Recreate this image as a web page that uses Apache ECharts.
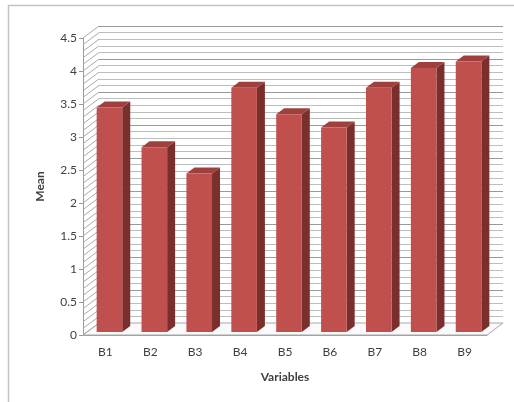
<!DOCTYPE html>
<html>
<head>
<meta charset="utf-8">
<script src="https://cdn.jsdelivr.net/npm/echarts@6/dist/echarts.min.js"></script>
<style>
  html, body { margin: 0; padding: 0; background: #fff; }
  #chart { width: 514px; height: 402px; }
</style>
</head>
<body>
<div id="chart"></div>
<script>
var categories = ['B1', 'B2', 'B3', 'B4', 'B5', 'B6', 'B7', 'B8', 'B9'];
var means = [3.4, 2.8, 2.4, 3.7, 3.3, 3.1, 3.7, 4.0, 4.1];
var yMin = 0, yMax = 4.5, yStep = 0.5, minorStep = 0.1;

// depth of the 3D box (back wall offset from front plane)
var DX = 16, DY = -12;
var font = 'Lato, "Liberation Sans", sans-serif';

var myChart = echarts.init(document.getElementById('chart'));

// walls: floor + hatched left side wall
function renderWalls(params, api) {
    var cs = params.coordSys;
    var children = [];
    var x0 = cs.x, x1 = cs.x + cs.width, yb = cs.y + cs.height;
    children.push({
        type: 'polygon',
        shape: { points: [[x0, yb], [x1, yb], [x1 + DX, yb + DY], [x0 + DX, yb + DY]] },
        style: { fill: '#fafafa', stroke: '#a8a8a8', lineWidth: 1 }
    });
    var n = Math.round((yMax - yMin) / minorStep);
    for (var k = 0; k <= n; k++) {
        var y = api.coord([0, yMin + k * minorStep])[1];
        children.push({
            type: 'line',
            shape: { x1: x0, y1: y, x2: x0 + DX, y2: y + DY },
            style: { stroke: '#aaaaaa', lineWidth: 1 }
        });
    }
    return { type: 'group', children: children };
}

// 3D looking bars
function renderBar(params, api) {
    var i = api.value(0), v = api.value(1);
    var base = api.coord([i, 0]);
    var top = api.coord([i, v]);
    var band = api.size([1, 0])[0];
    var half = band * 0.285;
    var cx = base[0] + DX / 4;
    var xl = cx - half, xr = cx + half;
    var yb = base[1] + DY / 4, yt = top[1] + DY / 4;
    var bx = DX / 2, by = DY / 2;
    return {
        type: 'group',
        children: [{
            type: 'polygon',
            shape: { points: [[xr, yb], [xr, yt], [xr + bx, yt + by], [xr + bx, yb + by]] },
            style: { fill: '#7a2f2c' }
        }, {
            type: 'polygon',
            shape: { points: [[xl, yt], [xr, yt], [xr + bx, yt + by], [xl + bx, yt + by]] },
            style: { fill: '#9e403d' }
        }, {
            type: 'rect',
            shape: { x: xl, y: yt, width: xr - xl, height: yb - yt },
            style: { fill: '#c0504d' }
        }]
    };
}

myChart.setOption({
    backgroundColor: '#fff',
    animation: false,
    graphic: [{
        type: 'line',
        shape: { x1: 8, y1: 5.5, x2: 514, y2: 5.5 },
        style: { stroke: '#c4c4c4', lineWidth: 1.5 }
    }, {
        type: 'line',
        shape: { x1: 8.5, y1: 5, x2: 8.5, y2: 402 },
        style: { stroke: '#c4c4c4', lineWidth: 1.5 }
    }],
    grid: [
        { left: 83, right: 27, top: 38, bottom: 67 },              // front plane
        { left: 83 + DX, right: 27 - DX, top: 38 + DY, bottom: 67 - DY } // back wall
    ],
    xAxis: [{
        type: 'category',
        gridIndex: 0,
        data: categories,
        name: 'Variables',
        nameLocation: 'middle',
        nameGap: 36,
        nameTextStyle: { fontFamily: font, fontSize: 12, fontWeight: 'bold', color: '#404040' },
        axisLine: { lineStyle: { color: '#9a9a9a' } },
        axisTick: { show: false },
        axisLabel: { fontFamily: font, fontSize: 12, color: '#404040', margin: 11 }
    }, {
        type: 'category',
        gridIndex: 1,
        data: categories,
        show: false
    }],
    yAxis: [{
        type: 'value',
        gridIndex: 0,
        min: yMin,
        max: yMax,
        interval: yStep,
        name: 'Mean',
        nameLocation: 'middle',
        nameRotate: 90,
        nameGap: 37,
        nameTextStyle: { fontFamily: font, fontSize: 12, fontWeight: 'bold', color: '#404040' },
        axisLine: { show: true, lineStyle: { color: '#9a9a9a' } },
        axisTick: { show: true, length: 4, lineStyle: { color: '#9a9a9a' } },
        axisLabel: { fontFamily: font, fontSize: 12, color: '#404040', margin: 6 },
        splitLine: { show: false }
    }, {
        type: 'value',
        gridIndex: 1,
        min: yMin,
        max: yMax,
        interval: yStep,
        axisLine: { show: false },
        axisTick: { show: false },
        axisLabel: { show: false },
        splitLine: { show: true, lineStyle: { color: '#999999', width: 1 } },
        minorTick: { show: false, splitNumber: 5 },
        minorSplitLine: { show: true, lineStyle: { color: '#bdbdbd', width: 1 } }
    }],
    series: [{
        type: 'custom',
        xAxisIndex: 0,
        yAxisIndex: 0,
        z: 1,
        silent: true,
        renderItem: renderWalls,
        data: [[0, 0]]
    }, {
        type: 'custom',
        name: 'Mean',
        xAxisIndex: 0,
        yAxisIndex: 0,
        z: 3,
        renderItem: renderBar,
        encode: { x: 0, y: 1 },
        data: means.map(function (v, i) { return [i, v]; })
    }]
});
</script>
</body>
</html>
